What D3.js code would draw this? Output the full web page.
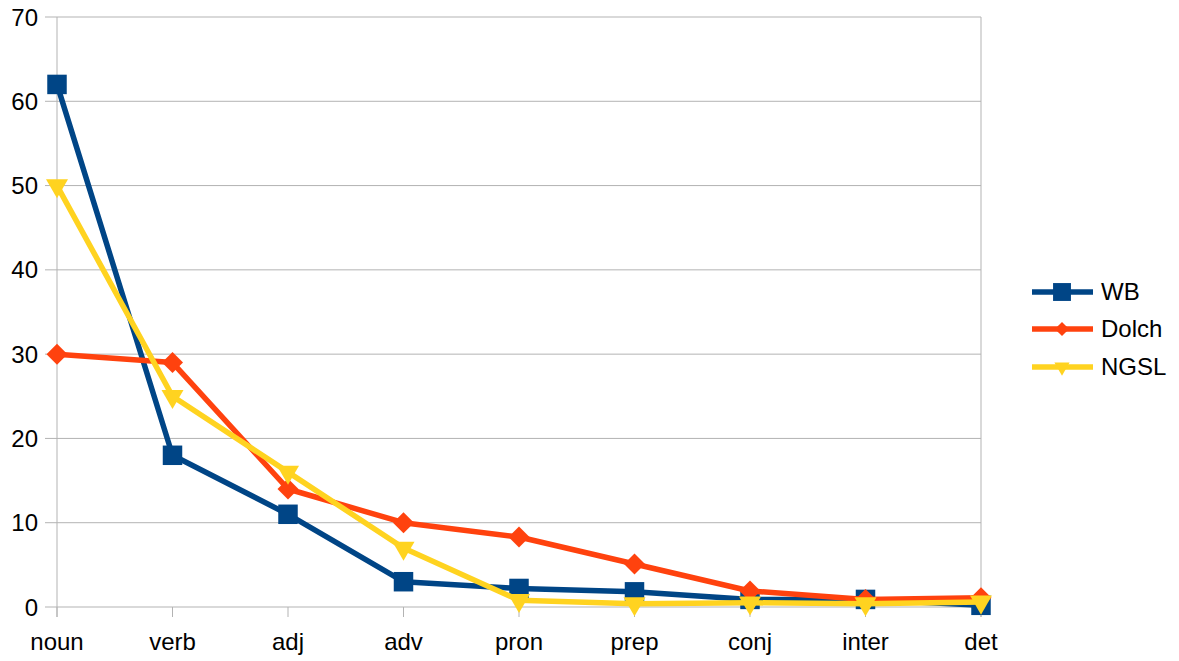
<!DOCTYPE html>
<html><head><meta charset="utf-8">
<script src="https://cdn.jsdelivr.net/npm/d3@7"></script>
<style>body{margin:0;background:#fff}</style>
</head><body>
<svg id="c" width="1179" height="661"></svg>
<script>
const categories = ["noun","verb","adj","adv","pron","prep","conj","inter","det"];
const wb    = [62, 18, 11, 3, 2.2, 1.8, 0.9, 0.9, 0.2];
const dolch = [30, 29, 14, 10, 8.3, 5.1, 1.9, 0.9, 1.1];
const ngsl  = [50, 25, 16, 7, 0.8, 0.4, 0.5, 0.4, 0.6];
const yTicks = [0,10,20,30,40,50,60,70];
const seriesNames = ["WB","Dolch","NGSL"];
const colors = ["#004586","#ff420e","#ffd320"];
const symbols = [d3.symbolSquare, d3.symbolSquare, d3.symbolTriangle];
const rotations = [0, 45, 180];

(function(){
const svg = d3.select("#c");
const font = "Liberation Sans, Arial, sans-serif";
const fs = 24;
const pLeft = 57, pRight = 981, pTop = 17, pBottom = 607;
const x = d3.scalePoint().domain(categories).range([pLeft, pRight]);
const y = d3.scaleLinear().domain([0,70]).range([pBottom, pTop]);

// grid
svg.append("g").selectAll("line").data(yTicks).join("line")
  .attr("x1", pLeft-12).attr("x2", pRight).attr("y1", d=>y(d)).attr("y2", d=>y(d))
  .attr("stroke","#b3b3b3").attr("stroke-width",1);
svg.append("line").attr("x1",pLeft).attr("x2",pLeft).attr("y1",pTop).attr("y2",pBottom+10).attr("stroke","#b3b3b3");
svg.append("line").attr("x1",pRight).attr("x2",pRight).attr("y1",pTop).attr("y2",pBottom+10).attr("stroke","#b3b3b3");
svg.append("g").selectAll("line").data(categories).join("line")
  .attr("x1", d=>x(d)).attr("x2", d=>x(d)).attr("y1", pBottom).attr("y2", pBottom+10)
  .attr("stroke","#b3b3b3");

// y labels
svg.append("g").selectAll("text").data(yTicks).join("text")
  .attr("x", 38).attr("y", d=>y(d)+8.5).attr("text-anchor","end")
  .attr("font-family",font).attr("font-size",fs).attr("fill","#000").text(d=>d);
// x labels
svg.append("g").selectAll("text").data(categories).join("text")
  .attr("x", d=>x(d)).attr("y", 650).attr("text-anchor","middle")
  .attr("font-family",font).attr("font-size",fs).attr("fill","#000").text(d=>d);

const data = [wb, dolch, ngsl];
const sizes = [380, 220, 210];
const line = d3.line().x((d,i)=>x(categories[i])).y(d=>y(d));
data.forEach((vals, si) => {
  svg.append("path").attr("d", line(vals)).attr("fill","none")
    .attr("stroke", colors[si]).attr("stroke-width",5.5).attr("stroke-linejoin","round");
  const sym = d3.symbol().type(symbols[si]).size(sizes[si]);
  svg.append("g").selectAll("path").data(vals).join("path")
    .attr("d", sym)
    .attr("transform",(d,i)=>`translate(${x(categories[i])},${y(d)}) rotate(${rotations[si]})`)
    .attr("fill", colors[si]);
});

// legend
const ly = [292, 329, 367];
const lsizes = [320, 100, 100];
seriesNames.forEach((n, si) => {
  const g = svg.append("g");
  g.append("line").attr("x1",1032).attr("x2",1093).attr("y1",ly[si]).attr("y2",ly[si])
    .attr("stroke",colors[si]).attr("stroke-width",5.5);
  g.append("path").attr("d", d3.symbol().type(symbols[si]).size(lsizes[si])())
    .attr("transform",`translate(1062,${ly[si]}) rotate(${rotations[si]})`).attr("fill",colors[si]);
  g.append("text").attr("x",1101).attr("y",ly[si]+8).attr("font-family",font)
    .attr("font-size",fs).attr("fill","#000").text(n);
});
})();
</script>
</body></html>
